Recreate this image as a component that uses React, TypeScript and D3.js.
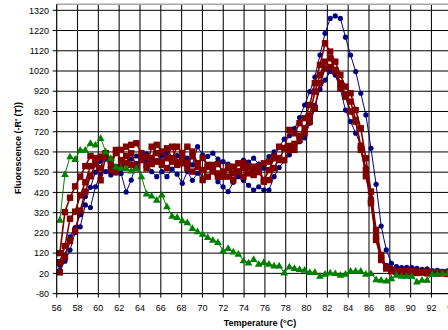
import React from 'react';
import * as d3 from 'd3';

// Melt-curve temperatures (°C)
const temperature = [
  56.3, 56.79, 57.28, 57.77, 58.26, 58.75, 59.24, 59.73, 60.22, 60.71,
  61.2, 61.69, 62.18, 62.67, 63.16, 63.65, 64.14, 64.63, 65.12, 65.61,
  66.1, 66.59, 67.08, 67.57, 68.06, 68.55, 69.04, 69.53, 70.02, 70.51,
  71.0, 71.49, 71.98, 72.47, 72.96, 73.45, 73.94, 74.43, 74.92, 75.41,
  75.9, 76.39, 76.88, 77.37, 77.86, 78.35, 78.84, 79.33, 79.82, 80.31,
  80.8, 81.29, 81.78, 82.27, 82.76, 83.25, 83.74, 84.23, 84.72, 85.21,
  85.7, 86.19, 86.68, 87.17, 87.66, 88.15, 88.64, 89.13, 89.62, 90.11,
  90.6, 91.09, 91.58, 92.07, 92.56, 93.05, 93.54, 94.03, 94.52, 95.01,
];

// -R'(T) per well
const blueA = [
  60, 110, 200, 246, 310, 400, 445, 520, 575, 585,
  560, 548, 575, 600, 585, 600, 582, 610, 560, 578,
  600, 614, 590, 602, 572, 590, 556, 646, 605, 598,
  614, 585, 572, 560, 548, 564, 580, 570, 589, 560,
  540, 597, 620, 646, 683, 700, 735, 790, 852, 918,
  990, 1099, 1206, 1280, 1292, 1280, 1187, 1099, 1017, 910,
  803, 638, 460, 254, 136, 70, 53, 48, 50, 48,
  45, 40, 42, 33, 35, 30, 32, 28, 27, 26,
];
const blueB = [
  35, 80, 135, 222, 250, 358, 345, 448, 509, 523,
  506, 517, 514, 422, 481, 564, 584, 572, 523, 498,
  523, 498, 535, 510, 465, 523, 480, 515, 481, 498,
  523, 473, 448, 424, 470, 498, 480, 455, 432, 448,
  432, 432, 498, 543, 576, 606, 638, 671, 690, 762,
  850, 930, 975, 1017, 1000, 930, 827, 770, 713, 654,
  540, 395, 220, 100, 60, 45, 40, 38, 36, 38,
  35, 33, 30, 32, 28, 30, 27, 25, 26, 24,
];
const redA = [
  120, 323, 394, 450, 498, 550, 600, 590, 597, 614,
  580, 614, 630, 646, 655, 663, 614, 597, 589, 655,
  622, 638, 589, 646, 614, 646, 622, 564, 590, 556,
  531, 560, 523, 547, 514, 564, 540, 547, 530, 547,
  564, 572, 597, 646, 638, 729, 712, 762, 787, 852,
  960, 1050, 1157, 1116, 1066, 1000, 943, 910, 827, 737,
  589, 424, 235, 111, 45, 30, 28, 25, 27, 24,
  22, 25, 20, 22, 18, 20, 17, 18, 16, 15,
];
const redB = [
  75, 155, 290, 325, 405, 470, 550, 575, 539, 614,
  531, 630, 580, 564, 614, 547, 597, 539, 646, 614,
  572, 589, 646, 572, 589, 564, 598, 564, 481, 547,
  556, 498, 514, 498, 547, 523, 564, 514, 547, 520,
  481, 530, 589, 580, 638, 650, 630, 700, 737, 800,
  918, 1000, 1066, 1083, 1025, 960, 902, 869, 778, 630,
  531, 367, 185, 86, 45, 35, 30, 32, 28, 30,
  27, 25, 28, 24, 26, 22, 25, 21, 23, 20,
];
const redC = [
  25, 100, 180, 230, 330, 424, 500, 560, 480, 600,
  556, 520, 547, 600, 556, 540, 580, 556, 560, 572,
  556, 540, 572, 556, 564, 540, 523, 547, 531, 498,
  523, 514, 498, 540, 480, 523, 498, 547, 506, 547,
  473, 481, 540, 589, 580, 630, 660, 680, 712, 770,
  836, 960, 1033, 1040, 1017, 935, 893, 820, 770, 650,
  500, 380, 200, 95, 50, 38, 32, 30, 33, 28,
  30, 26, 28, 25, 27, 24, 22, 25, 21, 22,
];
const greenA = [
  284, 510, 597, 584, 630, 630, 663, 655, 688, 621,
  589, 547, 540, 540, 527, 540, 498, 413, 403, 383,
  408, 350, 304, 297, 281, 271, 243, 227, 215, 199,
  185, 174, 132, 144, 127, 116, 83, 73, 90, 66,
  75, 66, 58, 58, 23, 53, 45, 40, 37, 26,
  26, 7, 17, 23, 20, 12, 17, 32, 32, 32,
  17, 20, -10, -13, -17, -5, 12, 7, 7, 7,
  -21, -13, -13, 17, 17, 20, 20, 20, 18, 15,
];

const xTicks = [56, 58, 60, 62, 64, 66, 68, 70, 72, 74, 76, 78, 80, 82, 84, 86, 88, 90, 92, 94];
const yTicks = [-80, 20, 120, 220, 320, 420, 520, 620, 720, 820, 920, 1020, 1120, 1220, 1320];

type Marker = 'circle' | 'square' | 'triangle';
const wells: { values: number[]; color: string; marker: Marker; width: number }[] = [
  { values: blueA, color: '#000080', marker: 'circle', width: 1 },
  { values: blueB, color: '#000080', marker: 'circle', width: 1 },
  { values: redA, color: '#800000', marker: 'square', width: 1.6 },
  { values: redB, color: '#800000', marker: 'square', width: 1.6 },
  { values: redC, color: '#800000', marker: 'square', width: 1.6 },
  { values: greenA, color: '#008000', marker: 'triangle', width: 1 },
];

const W = 448;
const H = 330;
const FONT = '"Liberation Sans", Arial, sans-serif';

export default function App() {
  const x = d3.scaleLinear().domain([56, 96]).range([56.7, 56.7 + 40 * 10.41]);
  const y = d3.scaleLinear().domain([-80, 1320]).range([293.6, 10.3]);
  const plotLeft = x(56);
  const plotRight = x(96);
  const plotTop = y(1350);
  const plotBottom = y(-80);

  const line = d3
    .line<number>()
    .x((_, i) => x(temperature[i]))
    .y((d) => y(d));

  const tri = d3.symbol().type(d3.symbolTriangle).size(26)() as string;

  const drawMarker = (m: Marker, cx: number, cy: number, color: string, key: number) => {
    if (m === 'circle') return <circle key={key} cx={cx} cy={cy} r={2.6} fill={color} />;
    if (m === 'square') return <rect key={key} x={cx - 3.2} y={cy - 3.2} width={6.4} height={6.4} fill={color} />;
    return <path key={key} d={tri} transform={`translate(${cx},${cy + 0.5})`} fill={color} />;
  };

  return (
    <svg
      width={W}
      height={H}
      style={{ position: 'absolute', left: 0, top: 0, display: 'block', background: '#fff' }}
      fontFamily={FONT}
    >
      <rect x={0} y={0} width={W} height={H} fill="#fff" />
      {/* grid */}
      {yTicks.slice(1).map((t) => (
        <line key={'gy' + t} x1={plotLeft} x2={plotRight} y1={y(t)} y2={y(t)} stroke="#000" strokeWidth={1} />
      ))}
      {xTicks.slice(1).map((t) => (
        <line key={'gx' + t} x1={x(t)} x2={x(t)} y1={plotTop} y2={plotBottom} stroke="#111" strokeWidth={1.1} />
      ))}
      <line x1={plotLeft} x2={plotRight} y1={plotTop} y2={plotTop} stroke="#a6a6a6" strokeWidth={1.6} />

      {/* curves */}
      {wells.map((w, si) => (
        <g key={'s' + si}>
          <path d={line(w.values) ?? ''} fill="none" stroke={w.color} strokeWidth={w.width} />
          {w.values.map((v, i) => drawMarker(w.marker, x(temperature[i]), y(v), w.color, i))}
        </g>
      ))}

      {/* axes */}
      <line x1={plotLeft} x2={plotLeft} y1={plotTop} y2={plotBottom} stroke="#000" strokeWidth={1.2} />
      <line x1={plotLeft} x2={plotRight} y1={plotBottom} y2={plotBottom} stroke="#000" strokeWidth={1.2} />
      {yTicks.map((t) => (
        <g key={'ty' + t}>
          <line x1={plotLeft - 4} x2={plotLeft} y1={y(t)} y2={y(t)} stroke="#000" />
          <text x={49} y={y(t) + 3.2} textAnchor="end" fontSize={9} fill="#000">
            {t}
          </text>
        </g>
      ))}
      {xTicks.map((t) => (
        <g key={'tx' + t}>
          <line x1={x(t)} x2={x(t)} y1={plotBottom} y2={plotBottom + 4} stroke="#000" />
          <text x={x(t)} y={310.5} textAnchor="middle" fontSize={9} fill="#000">
            {t}
          </text>
        </g>
      ))}
      <text x={260} y={326} textAnchor="middle" fontSize={9} fontWeight="bold" fill="#000">
        Temperature (°C)
      </text>
      <text
        transform="translate(21,148) rotate(-90)"
        textAnchor="middle"
        fontSize={9}
        fontWeight="bold"
        fill="#000"
      >
        Fluorescence (-R' (T))
      </text>
    </svg>
  );
}
